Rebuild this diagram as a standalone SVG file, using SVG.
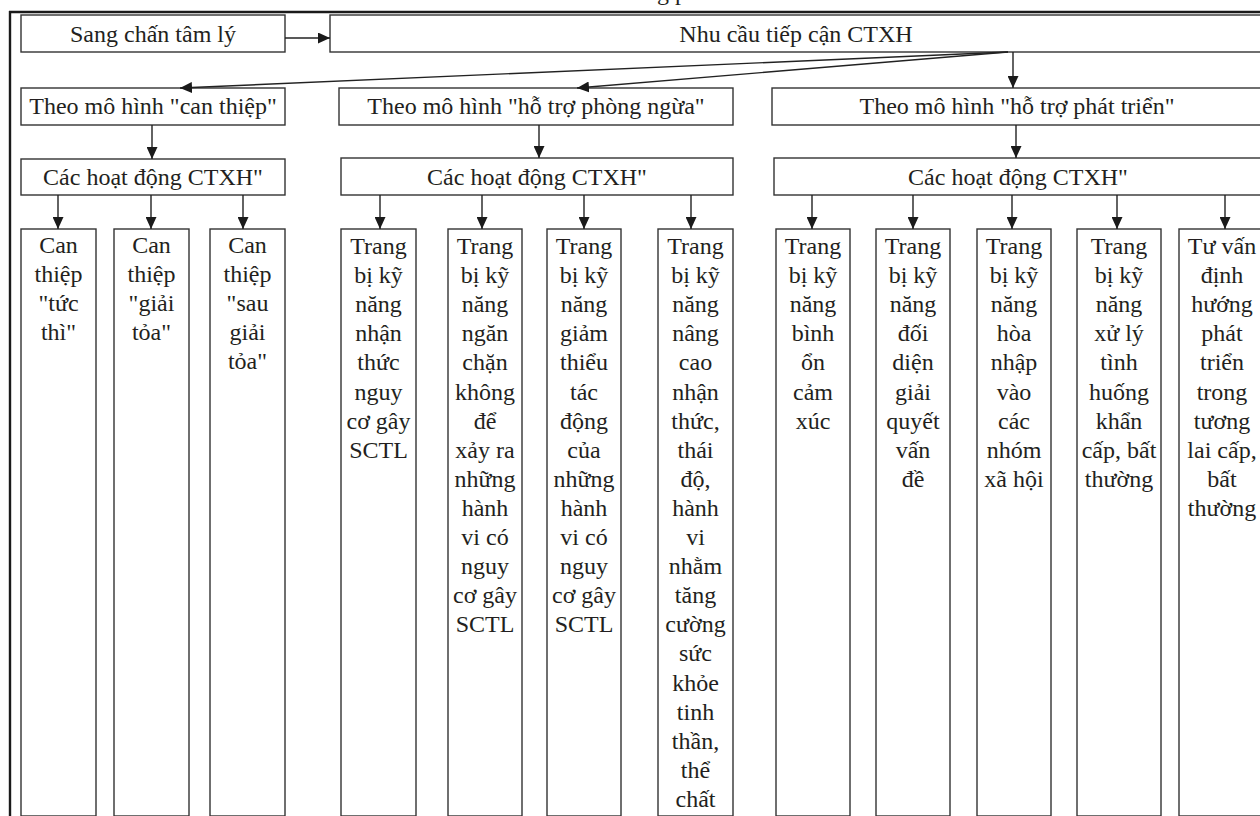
<svg xmlns="http://www.w3.org/2000/svg" width="1260" height="816" viewBox="0 0 1260 816">
  <defs>
    <style>
      .box { fill: #ffffff; stroke: #333333; stroke-width: 1.4; }
      .frame { fill: none; stroke: #1a1a1a; stroke-width: 2.4; }
      .link { fill: none; stroke: #222222; stroke-width: 1.4; }
      text { font-family: "Liberation Serif", "DejaVu Serif", serif; font-size: 24px; fill: #231f20; text-anchor: middle; }
    </style>
    <marker id="arrow" viewBox="0 0 12 11" refX="12" refY="5.5" markerWidth="12" markerHeight="11" markerUnits="userSpaceOnUse" orient="auto">
      <path d="M0,0 L12,5.5 L0,11 Z" fill="#1a1a1a"/>
    </marker>
  </defs>

  <rect width="1260" height="816" fill="#ffffff"/>

  <!-- title line above the frame, clipped at the top edge -->
  <text x="645" y="0" style="text-anchor:start">ng p</text>

  <!-- outer frame -->
  <g id="frame">
    <line class="frame" x1="9" y1="12" x2="1262" y2="12"/>
    <line class="frame" x1="10" y1="11" x2="10" y2="818"/>
  </g>

  <!-- row 1 -->
  <g id="sang-chan">
    <rect class="box" x="21" y="15" width="264" height="37"/>
    <text x="153" y="42">Sang chấn tâm lý</text>
  </g>
  <g id="nhu-cau">
    <rect class="box" x="330" y="15" width="934" height="37"/>
    <text x="796" y="42">Nhu cầu tiếp cận CTXH</text>
  </g>

  <!-- row 2: models -->
  <g id="mo-hinh-can-thiep">
    <rect class="box" x="21" y="88" width="264" height="37"/>
    <text x="153" y="114">Theo mô hình "can thiệp"</text>
  </g>
  <g id="mo-hinh-phong-ngua">
    <rect class="box" x="339" y="88" width="394" height="37"/>
    <text x="536" y="114">Theo mô hình "hỗ trợ phòng ngừa"</text>
  </g>
  <g id="mo-hinh-phat-trien">
    <rect class="box" x="772" y="88" width="492" height="37"/>
    <text x="1017" y="114">Theo mô hình "hỗ trợ phát triển"</text>
  </g>

  <!-- row 3: activity headers -->
  <g id="hoat-dong-1">
    <rect class="box" x="21" y="159" width="264" height="36"/>
    <text x="153" y="185">Các hoạt động CTXH"</text>
  </g>
  <g id="hoat-dong-2">
    <rect class="box" x="341" y="158" width="392" height="37"/>
    <text x="537" y="185">Các hoạt động CTXH"</text>
  </g>
  <g id="hoat-dong-3">
    <rect class="box" x="774" y="158" width="490" height="37"/>
    <text x="1018" y="185">Các hoạt động CTXH"</text>
  </g>

  <!-- row 4: activities, intervention model -->
  <g id="can-thiep-tuc-thi">
    <rect class="box" x="21" y="229" width="75" height="587"/>
    <text y="253"><tspan x="58.5">Can</tspan><tspan x="58.5" dy="29.1">thiệp</tspan><tspan x="58.5" dy="29.1">"tức</tspan><tspan x="58.5" dy="29.1">thì"</tspan></text>
  </g>
  <g id="can-thiep-giai-toa">
    <rect class="box" x="114" y="229" width="75" height="587"/>
    <text y="253"><tspan x="151.5">Can</tspan><tspan x="151.5" dy="29.1">thiệp</tspan><tspan x="151.5" dy="29.1">"giải</tspan><tspan x="151.5" dy="29.1">tỏa"</tspan></text>
  </g>
  <g id="can-thiep-sau-giai-toa">
    <rect class="box" x="210" y="229" width="75" height="587"/>
    <text y="253"><tspan x="247.5">Can</tspan><tspan x="247.5" dy="29.1">thiệp</tspan><tspan x="247.5" dy="29.1">"sau</tspan><tspan x="247.5" dy="29.1">giải</tspan><tspan x="247.5" dy="29.1">tỏa"</tspan></text>
  </g>

  <!-- row 4: activities, prevention model -->
  <g id="nhan-thuc-nguy-co">
    <rect class="box" x="341" y="229" width="75" height="587"/>
    <text y="254"><tspan x="378.5">Trang</tspan><tspan x="378.5" dy="29.1">bị kỹ</tspan><tspan x="378.5" dy="29.1">năng</tspan><tspan x="378.5" dy="29.1">nhận</tspan><tspan x="378.5" dy="29.1">thức</tspan><tspan x="378.5" dy="29.1">nguy</tspan><tspan x="378.5" dy="29.1">cơ gây</tspan><tspan x="378.5" dy="29.1">SCTL</tspan></text>
  </g>
  <g id="ngan-chan">
    <rect class="box" x="448" y="229" width="74" height="587"/>
    <text y="254"><tspan x="485">Trang</tspan><tspan x="485" dy="29.1">bị kỹ</tspan><tspan x="485" dy="29.1">năng</tspan><tspan x="485" dy="29.1">ngăn</tspan><tspan x="485" dy="29.1">chặn</tspan><tspan x="485" dy="29.1">không</tspan><tspan x="485" dy="29.1">để</tspan><tspan x="485" dy="29.1">xảy ra</tspan><tspan x="485" dy="29.1">những</tspan><tspan x="485" dy="29.1">hành</tspan><tspan x="485" dy="29.1">vi có</tspan><tspan x="485" dy="29.1">nguy</tspan><tspan x="485" dy="29.1">cơ gây</tspan><tspan x="485" dy="29.1">SCTL</tspan></text>
  </g>
  <g id="giam-thieu">
    <rect class="box" x="547" y="229" width="74" height="587"/>
    <text y="254"><tspan x="584">Trang</tspan><tspan x="584" dy="29.1">bị kỹ</tspan><tspan x="584" dy="29.1">năng</tspan><tspan x="584" dy="29.1">giảm</tspan><tspan x="584" dy="29.1">thiểu</tspan><tspan x="584" dy="29.1">tác</tspan><tspan x="584" dy="29.1">động</tspan><tspan x="584" dy="29.1">của</tspan><tspan x="584" dy="29.1">những</tspan><tspan x="584" dy="29.1">hành</tspan><tspan x="584" dy="29.1">vi có</tspan><tspan x="584" dy="29.1">nguy</tspan><tspan x="584" dy="29.1">cơ gây</tspan><tspan x="584" dy="29.1">SCTL</tspan></text>
  </g>
  <g id="nang-cao-nhan-thuc">
    <rect class="box" x="658" y="229" width="75" height="587"/>
    <text y="254"><tspan x="695.5">Trang</tspan><tspan x="695.5" dy="29.1">bị kỹ</tspan><tspan x="695.5" dy="29.1">năng</tspan><tspan x="695.5" dy="29.1">nâng</tspan><tspan x="695.5" dy="29.1">cao</tspan><tspan x="695.5" dy="29.1">nhận</tspan><tspan x="695.5" dy="29.1">thức,</tspan><tspan x="695.5" dy="29.1">thái</tspan><tspan x="695.5" dy="29.1">độ,</tspan><tspan x="695.5" dy="29.1">hành</tspan><tspan x="695.5" dy="29.1">vi</tspan><tspan x="695.5" dy="29.1">nhằm</tspan><tspan x="695.5" dy="29.1">tăng</tspan><tspan x="695.5" dy="29.1">cường</tspan><tspan x="695.5" dy="29.1">sức</tspan><tspan x="695.5" dy="29.1">khỏe</tspan><tspan x="695.5" dy="29.1">tinh</tspan><tspan x="695.5" dy="29.1">thần,</tspan><tspan x="695.5" dy="29.1">thể</tspan><tspan x="695.5" dy="29.1">chất</tspan></text>
  </g>

  <!-- row 4: activities, development model -->
  <g id="binh-on-cam-xuc">
    <rect class="box" x="776" y="229" width="74" height="587"/>
    <text y="254"><tspan x="813">Trang</tspan><tspan x="813" dy="29.1">bị kỹ</tspan><tspan x="813" dy="29.1">năng</tspan><tspan x="813" dy="29.1">bình</tspan><tspan x="813" dy="29.1">ổn</tspan><tspan x="813" dy="29.1">cảm</tspan><tspan x="813" dy="29.1">xúc</tspan></text>
  </g>
  <g id="doi-dien-giai-quyet">
    <rect class="box" x="876" y="229" width="74" height="587"/>
    <text y="254"><tspan x="913">Trang</tspan><tspan x="913" dy="29.1">bị kỹ</tspan><tspan x="913" dy="29.1">năng</tspan><tspan x="913" dy="29.1">đối</tspan><tspan x="913" dy="29.1">diện</tspan><tspan x="913" dy="29.1">giải</tspan><tspan x="913" dy="29.1">quyết</tspan><tspan x="913" dy="29.1">vấn</tspan><tspan x="913" dy="29.1">đề</tspan></text>
  </g>
  <g id="hoa-nhap">
    <rect class="box" x="977" y="229" width="74" height="587"/>
    <text y="254"><tspan x="1014">Trang</tspan><tspan x="1014" dy="29.1">bị kỹ</tspan><tspan x="1014" dy="29.1">năng</tspan><tspan x="1014" dy="29.1">hòa</tspan><tspan x="1014" dy="29.1">nhập</tspan><tspan x="1014" dy="29.1">vào</tspan><tspan x="1014" dy="29.1">các</tspan><tspan x="1014" dy="29.1">nhóm</tspan><tspan x="1014" dy="29.1">xã hội</tspan></text>
  </g>
  <g id="xu-ly-tinh-huong">
    <rect class="box" x="1077" y="229" width="84" height="587"/>
    <text y="254"><tspan x="1119">Trang</tspan><tspan x="1119" dy="29.1">bị kỹ</tspan><tspan x="1119" dy="29.1">năng</tspan><tspan x="1119" dy="29.1">xử lý</tspan><tspan x="1119" dy="29.1">tình</tspan><tspan x="1119" dy="29.1">huống</tspan><tspan x="1119" dy="29.1">khẩn</tspan><tspan x="1119" dy="29.1">cấp, bất</tspan><tspan x="1119" dy="29.1">thường</tspan></text>
  </g>
  <g id="tu-van-dinh-huong">
    <rect class="box" x="1179" y="229" width="86" height="587"/>
    <text y="254"><tspan x="1222">Tư vấn</tspan><tspan x="1222" dy="29.1">định</tspan><tspan x="1222" dy="29.1">hướng</tspan><tspan x="1222" dy="29.1">phát</tspan><tspan x="1222" dy="29.1">triển</tspan><tspan x="1222" dy="29.1">trong</tspan><tspan x="1222" dy="29.1">tương</tspan><tspan x="1222" dy="29.1">lai cấp,</tspan><tspan x="1222" dy="29.1">bất</tspan><tspan x="1222" dy="29.1">thường</tspan></text>
  </g>

  <!-- connectors -->
  <g id="connectors">
    <line class="link" x1="285" y1="38" x2="330" y2="38" marker-end="url(#arrow)"/>
    <line class="link" x1="1008" y1="52" x2="180" y2="88" marker-end="url(#arrow)"/>
    <line class="link" x1="1008" y1="52" x2="577" y2="88" marker-end="url(#arrow)"/>
    <line class="link" x1="1013" y1="52" x2="1013" y2="88" marker-end="url(#arrow)"/>

    <line class="link" x1="152" y1="125" x2="152" y2="159" marker-end="url(#arrow)"/>
    <line class="link" x1="539" y1="125" x2="539" y2="158" marker-end="url(#arrow)"/>
    <line class="link" x1="1016" y1="125" x2="1016" y2="158" marker-end="url(#arrow)"/>

    <line class="link" x1="58" y1="195" x2="58" y2="229" marker-end="url(#arrow)"/>
    <line class="link" x1="151" y1="195" x2="151" y2="229" marker-end="url(#arrow)"/>
    <line class="link" x1="243" y1="195" x2="243" y2="229" marker-end="url(#arrow)"/>

    <line class="link" x1="380" y1="195" x2="380" y2="229" marker-end="url(#arrow)"/>
    <line class="link" x1="482" y1="195" x2="482" y2="229" marker-end="url(#arrow)"/>
    <line class="link" x1="584" y1="195" x2="584" y2="229" marker-end="url(#arrow)"/>
    <line class="link" x1="691" y1="195" x2="691" y2="229" marker-end="url(#arrow)"/>

    <line class="link" x1="812" y1="195" x2="812" y2="229" marker-end="url(#arrow)"/>
    <line class="link" x1="913" y1="195" x2="913" y2="229" marker-end="url(#arrow)"/>
    <line class="link" x1="1012" y1="195" x2="1012" y2="229" marker-end="url(#arrow)"/>
    <line class="link" x1="1117" y1="195" x2="1117" y2="229" marker-end="url(#arrow)"/>
    <line class="link" x1="1225" y1="195" x2="1225" y2="229" marker-end="url(#arrow)"/>
  </g>
</svg>
